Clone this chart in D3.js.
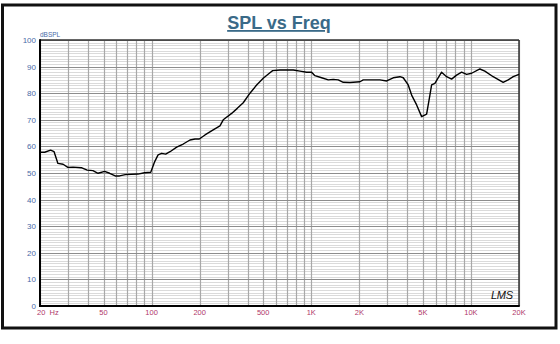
<!DOCTYPE html>
<html><head><meta charset="utf-8">
<script src="https://cdn.jsdelivr.net/npm/d3@7"></script>
<style>html,body{margin:0;padding:0;background:#fff;}svg{display:block;}</style>
</head><body>
<script>
const title = "SPL vs Freq";
const yUnit = "dBSPL";
const freqs = [20,21.4,23.3,24.5,25.9,27.9,29.9,32.2,36.3,39.5,42.9,46.2,50.8,54.6,59.2,63,68.4,82,90.4,98.8,104.6,109.8,115.6,122.5,130.4,143.6,157.8,173.9,187,198.9,216,243,268,281,317,344,375,413,455,500,551,573,637,771,850,935,1005,1054,1161,1278,1373,1476,1586,1746,2018,2116,2692,2966,3260,3592,3767,4048,4252,4570,4911,5278,5534,5672,5946,6550,7044,7568,8130,8745,9396,10100,11380,12220,13780,15920,17100,18400,20000];
const spl = [57.8,57.8,58.6,58.0,53.6,53.3,52.1,52.2,52.0,51.1,50.9,49.9,50.6,49.9,48.9,48.9,49.4,49.6,50.1,50.3,54.3,56.8,57.4,57.1,58.0,59.7,60.9,62.4,62.8,62.8,64.3,66.2,67.7,70.0,72.4,74.3,76.4,80.0,83.1,85.6,87.7,88.5,88.7,88.7,88.3,87.9,87.9,86.6,85.8,85.0,85.2,85.0,84.1,84.0,84.3,85.0,85.0,84.6,85.8,86.2,85.8,83.1,79.3,75.6,71.2,72.1,79.3,83.1,83.7,87.9,86.2,85.3,86.8,87.9,87.1,87.5,89.1,88.3,86.2,84.1,85.0,86.2,87.1];
const yTicks = [0,10,20,30,40,50,60,70,80,90,100];
const xTickValues = [20,50,100,200,500,1000,2000,5000,10000,20000];
const xTickLabels = ["20  Hz","50","100","200","500","1K","2K","5K","10K","20K"];
const xGrid = [20,30,40,50,60,70,80,90,100,200,300,400,500,600,700,800,900,1000,2000,3000,4000,5000,6000,7000,8000,9000,10000,20000];

const W = 560, H = 344;
const svg = d3.select("body").append("svg").attr("width", W).attr("height", H);
const L = 40, R = 519, T = 40, B = 306;
const x = d3.scaleLog().domain([20, 20000]).range([L, R]);
const y = d3.scaleLinear().domain([0, 100]).range([B, T]);

// outer frame
svg.append("rect").attr("x", 2.5).attr("y", 5).attr("width", 553.5).attr("height", 323)
  .attr("fill", "#fff").attr("stroke", "#111").attr("stroke-width", 3);

// minor horizontal grid (1 dB)
const g = svg.append("g");
g.selectAll(".hmin").data(d3.range(1, 100).filter(v => v % 10 !== 0)).join("line")
  .attr("x1", L).attr("x2", R).attr("y1", d => Math.round(y(d)) + 0.5).attr("y2", d => Math.round(y(d)) + 0.5)
  .attr("stroke", "#dadada").attr("stroke-width", 1);
// vertical grid
g.selectAll(".v").data(xGrid).join("line")
  .attr("x1", d => Math.round(x(d)) + 0.5).attr("x2", d => Math.round(x(d)) + 0.5)
  .attr("y1", T).attr("y2", B).attr("stroke", "#a8a8a8").attr("stroke-width", 1.2);
// major horizontal grid
g.selectAll(".hmaj").data(yTicks).join("line")
  .attr("x1", L).attr("x2", R).attr("y1", d => Math.round(y(d)) + 0.5).attr("y2", d => Math.round(y(d)) + 0.5)
  .attr("stroke", "#8c8c8c").attr("stroke-width", 1);

// plot border
svg.append("line").attr("x1", L).attr("x2", R).attr("y1", T).attr("y2", T).attr("stroke", "#333").attr("stroke-width", 1.5);
svg.append("line").attr("x1", R).attr("x2", R).attr("y1", T).attr("y2", B).attr("stroke", "#333").attr("stroke-width", 1.5);
svg.append("line").attr("x1", L).attr("x2", L).attr("y1", T - 0.75).attr("y2", B + 1).attr("stroke", "#000").attr("stroke-width", 2);
svg.append("line").attr("x1", L - 1).attr("x2", R + 0.75).attr("y1", B).attr("y2", B).attr("stroke", "#000").attr("stroke-width", 2);

// y labels
svg.selectAll(".yl").data(yTicks).join("text")
  .attr("x", 36).attr("y", d => y(d) + 3)
  .attr("text-anchor", "end").attr("font-family", "Liberation Sans, Arial, sans-serif")
  .attr("font-size", 8).attr("fill", "#4a6aa8").text(d => d);
svg.append("text").attr("x", 40).attr("y", 37).attr("font-family", "Liberation Sans, Arial, sans-serif")
  .attr("font-size", 6.5).attr("fill", "#4a6aa8").text(yUnit);

// x labels
svg.selectAll(".xl").data(xTickValues).join("text")
  .attr("x", (d, i) => i === 0 ? x(d) - 3 : x(d))
  .attr("y", 315)
  .attr("text-anchor", (d, i) => i === 0 ? "start" : "middle")
  .attr("font-family", "Liberation Sans, Arial, sans-serif")
  .attr("font-size", 7.5).attr("fill", "#b0386a")
  .attr("xml:space", "preserve").style("white-space", "pre")
  .text((d, i) => xTickLabels[i]);

// title
svg.append("text").attr("x", 279).attr("y", 29).attr("text-anchor", "middle")
  .attr("font-family", "Liberation Sans, Arial, sans-serif").attr("font-weight", "bold")
  .attr("font-size", 18).attr("fill", "#3a6a88").attr("text-decoration", "underline").text(title);

// curve
const line = d3.line().x((d, i) => x(freqs[i])).y(d => y(d));
svg.append("path").datum(spl).attr("d", line).attr("fill", "none")
  .attr("stroke", "#000").attr("stroke-width", 1.4).attr("stroke-linejoin", "round");

// LMS mark
svg.append("text").attr("x", 491).attr("y", 299)
  .attr("font-family", "Liberation Sans, Arial, sans-serif").attr("font-style", "italic")
  .attr("font-size", 11).attr("fill", "#111").attr("letter-spacing", -0.3).text("LMS");
</script>
</body></html>
